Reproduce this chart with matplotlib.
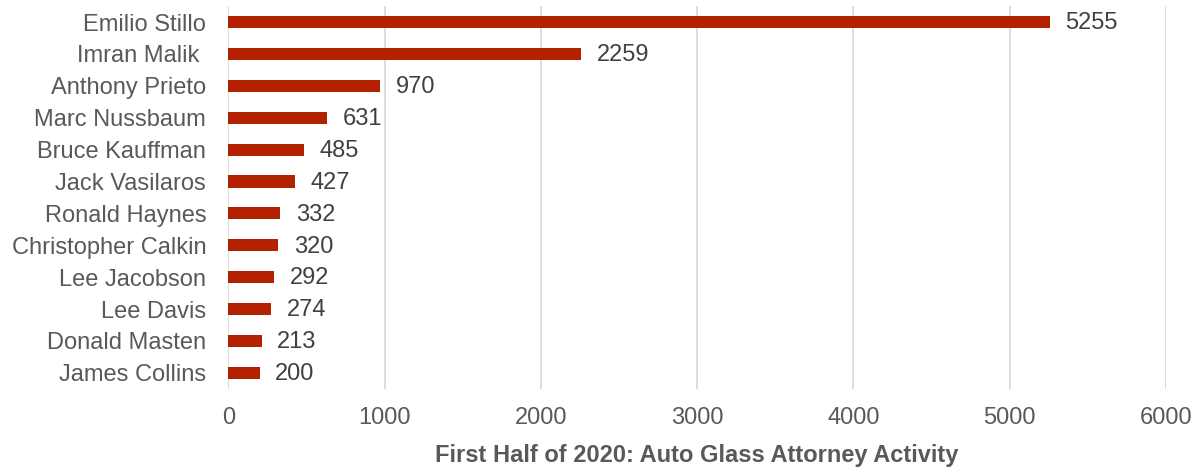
import matplotlib.pyplot as plt

plt.rcParams['font.family'] = ['Liberation Sans', 'DejaVu Sans']

# Attorneys and their claim counts, largest first
attorneys = ["Emilio Stillo", "Imran Malik ", "Anthony Prieto", "Marc Nussbaum",
             "Bruce Kauffman", "Jack Vasilaros", "Ronald Haynes", "Christopher Calkin",
             "Lee Jacobson", "Lee Davis", "Donald Masten", "James Collins"]
counts = [5255, 2259, 970, 631, 485, 427, 332, 320, 292, 274, 213, 200]

fig = plt.figure(figsize=(12.02, 4.69), dpi=100)
ax = fig.add_axes([0.19, 0.171, 0.78, 0.816])

pos = range(len(attorneys))
ax.barh(pos, counts, height=0.38, color='#B22200', zorder=3)

# value labels next to each bar
for i, v in zip(pos, counts):
    ax.text(v + 100, i + 0.04, str(v), va='center', ha='left', fontsize=17, color='#404040')

ax.set_yticks(list(pos))
ax.set_yticklabels(attorneys, fontsize=17, color='#595959')
ax.set_ylim(len(attorneys) - 0.5, -0.5)
ax.set_xlim(0, 6000)
ax.set_xticks(range(0, 6001, 1000))
ax.tick_params(axis='x', labelsize=17, labelcolor='#595959', length=0, pad=13)
ax.tick_params(axis='y', length=0, pad=16)

ax.xaxis.grid(True, color='#D9D9D9', linewidth=1.3, zorder=0)
for s in ax.spines.values():
    s.set_visible(False)

ax.set_xlabel('First Half of 2020: Auto Glass Attorney Activity', fontsize=17,
              fontweight='bold', color='#595959', labelpad=11)

fig.savefig('out.png', dpi=100)
